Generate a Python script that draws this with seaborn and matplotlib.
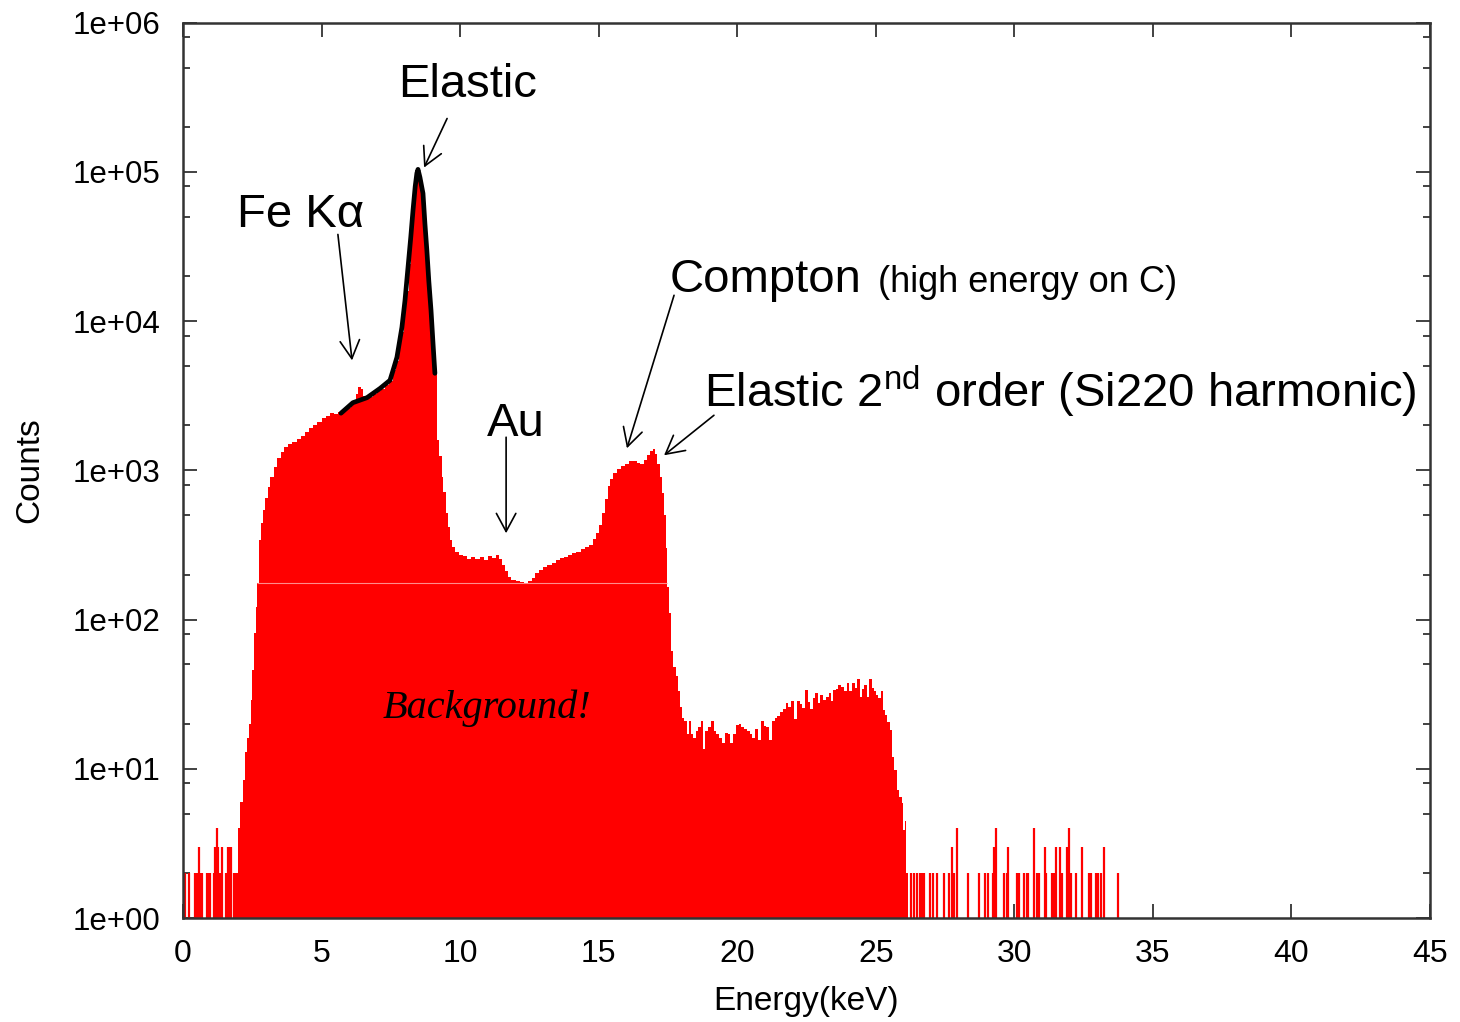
import numpy as np
import pandas as pd
import matplotlib
matplotlib.use("Agg")
import matplotlib.pyplot as plt
import seaborn as sns
from matplotlib.ticker import LogLocator, NullFormatter, NullLocator

# ---------------- data ----------------
body_energy = [
    1.93, 1.98, 2.05, 2.15, 2.22, 2.30, 2.38, 2.45, 2.50, 2.56,
    2.62, 2.68, 2.75, 2.81, 2.88, 2.96, 3.05, 3.15, 3.28, 3.40,
    3.52, 3.64, 3.80, 3.95, 4.10, 4.25, 4.40, 4.55, 4.70, 4.85,
    5.00, 5.15, 5.30, 5.45, 5.60, 5.75, 5.90, 6.05, 6.15, 6.25,
    6.33, 6.42, 6.50, 6.58, 6.70, 6.85, 7.00, 7.15, 7.30, 7.45,
    7.58, 7.68, 7.78, 7.88, 7.98, 8.06, 8.14, 8.22, 8.30, 8.37,
    8.43, 8.50, 8.56, 8.63, 8.70, 8.77, 8.84, 8.91, 8.98, 9.05,
    9.16, 9.25, 9.33, 9.40, 9.48, 9.56, 9.64, 9.72, 9.82, 9.95,
    10.10, 10.25, 10.40, 10.55, 10.70, 10.85, 11.00, 11.15, 11.30, 11.42,
    11.52, 11.62, 11.72, 11.85, 12.00, 12.15, 12.30, 12.45, 12.58, 12.70,
    12.85, 13.00, 13.15, 13.30, 13.45, 13.60, 13.75, 13.90, 14.05, 14.20,
    14.35, 14.50, 14.65, 14.80, 14.92, 15.02, 15.12, 15.22, 15.32, 15.42,
    15.52, 15.65, 15.80, 15.95, 16.10, 16.25, 16.40, 16.50, 16.62, 16.75,
    16.85, 16.95, 17.05, 17.12, 17.20, 17.28, 17.35, 17.42, 17.48, 17.55,
    17.62, 17.70, 17.78, 17.85, 17.92, 18.00, 18.08, 18.17, 18.25, 18.33,
    18.42, 18.50, 18.60, 18.68, 18.77, 18.85, 18.95, 19.05, 19.15, 19.25,
    19.35, 19.45, 19.55, 19.65, 19.75, 19.85, 19.95, 20.05, 20.15, 20.25,
    20.35, 20.45, 20.55, 20.65, 20.75, 20.85, 20.95, 21.05, 21.15, 21.25,
    21.35, 21.45, 21.55, 21.65, 21.75, 21.85, 21.95, 22.05, 22.15, 22.25,
    22.35, 22.45, 22.55, 22.62, 22.72, 22.80, 22.90, 23.00, 23.10, 23.20,
    23.30, 23.40, 23.47, 23.57, 23.65, 23.75, 23.85, 23.95, 24.05, 24.15,
    24.25, 24.32, 24.42, 24.50, 24.58, 24.67, 24.75, 24.85, 24.92, 25.00,
    25.08, 25.15, 25.20, 25.27, 25.35, 25.42, 25.50, 25.60, 25.67, 25.75,
    25.85, 25.93, 25.98, 26.05, 26.10,
]
body_end = 26.16
body_counts = [
    2, 4, 6, 8.4, 13, 16, 20, 29, 46, 81,
    121, 175, 340, 442, 541, 650, 771, 899, 1048, 1205,
    1322, 1428, 1500, 1560, 1620, 1700, 1820, 1930, 2020, 2120,
    2250, 2330, 2420, 2380, 2450, 2520, 2600, 2700, 2900, 3250,
    3600, 3500, 3150, 3000, 3100, 3250, 3380, 3520, 3750, 4000,
    4700, 5400, 6700, 8500, 12000, 16000, 24000, 36000, 54000, 78000,
    98000, 100000, 88000, 74000, 52000, 34000, 21000, 13500, 8000, 4500,
    1600, 1250, 900, 720, 520, 420, 340, 305, 285, 272,
    265, 256, 262, 255, 262, 250, 265, 258, 270, 255,
    232, 212, 192, 184, 182, 178, 174, 182, 190, 204,
    215, 225, 232, 240, 250, 258, 262, 270, 278, 285,
    295, 305, 318, 345, 380, 430, 520, 640, 780, 880,
    960, 1020, 1070, 1110, 1150, 1160, 1120, 1110, 1180, 1260,
    1340, 1390, 1290, 1100, 900, 700, 500, 300, 165, 110,
    62, 48, 42, 33, 26, 22, 21, 17, 21, 17,
    16, 18, 19, 21, 13.5, 18, 19, 21, 18, 17,
    16, 15, 17.5, 17, 15, 17, 19.6, 20, 19, 18.5,
    18, 17, 16, 18.5, 15.6, 21, 19.5, 19, 15.6, 21,
    22, 22.5, 24, 25, 27.5, 26, 28.5, 21.4, 28.5, 27,
    25.5, 33.6, 28, 25, 30, 32, 27.5, 31, 29, 30.5,
    32, 28.5, 33.6, 34, 36.4, 35.5, 33, 37.5, 33, 37.5,
    35, 39.8, 30.5, 34, 36.4, 30.5, 39.8, 35, 33, 31,
    29.8, 30, 33, 24.6, 23, 20.6, 18.2, 12, 9.8, 7.2,
    6.5, 5.9, 3.9, 4.5, 2,
]

noise_energy = [
    0.03, 0.08, 0.22, 0.45, 0.50, 0.58, 0.62, 0.68, 0.87, 0.92,
    0.97, 1.12, 1.16, 1.23, 1.28, 1.34, 1.41, 1.55, 1.62, 1.68,
    1.74, 1.84, 1.88,
    26.27, 26.38, 26.50, 26.60, 26.66, 26.74, 26.96, 27.07, 27.20, 27.46,
    27.64, 27.75, 27.82, 27.93, 28.33, 28.73, 28.95, 29.05, 29.23, 29.27,
    29.34, 29.63, 29.74, 29.77, 30.10, 30.17, 30.35, 30.46, 30.50, 30.71,
    30.82, 30.90, 31.11, 31.14, 31.36, 31.43, 31.50, 31.65, 31.72, 31.90,
    31.97, 32.05, 32.23, 32.44, 32.70, 32.77, 32.95, 33.02, 33.13, 33.24,
    33.74,
]
noise_counts = [
    2, 2, 2, 2, 2, 3, 2, 2, 2, 2,
    2, 2, 3, 4, 3, 2, 3, 2, 3, 3,
    3, 2, 2,
    2, 2, 2, 2, 2, 2, 2, 2, 2, 2,
    2, 3, 2, 4, 2, 2, 2, 2, 2, 3,
    4, 2, 2, 3, 2, 2, 2, 2, 2, 4,
    2, 2, 3, 2, 2, 2, 3, 3, 2, 3,
    4, 2, 2, 3, 2, 2, 2, 2, 2, 3,
    2,
]

fit_energy = [5.70, 6.13, 6.64, 7.11, 7.47, 7.58, 7.72, 7.90, 8.01, 8.12, 8.22, 8.30,
              8.38, 8.44, 8.48, 8.55, 8.66, 8.73, 8.80, 8.87, 8.95, 9.02, 9.09]
fit_counts = [2415, 2840, 3070, 3540, 4015, 4680, 5720, 9085, 13700, 22900, 36600, 55200,
              80000, 98000, 104000, 92000, 71800, 45000, 29800, 18600, 11800, 7200, 4470]

x_ticks = [0, 5, 10, 15, 20, 25, 30, 35, 40, 45]
y_ticks = [1e0, 1e1, 1e2, 1e3, 1e4, 1e5, 1e6]

# ---------------- style ----------------
sns.set_style("ticks")
plt.rcParams["font.family"] = ["Liberation Sans", "DejaVu Sans"]
plt.rcParams["text.color"] = "black"
plt.rcParams["axes.labelcolor"] = "black"
plt.rcParams["xtick.color"] = "black"
plt.rcParams["ytick.color"] = "black"
plt.rcParams["mathtext.fontset"] = "custom"
plt.rcParams["mathtext.rm"] = "Liberation Sans"
plt.rcParams["mathtext.it"] = "Liberation Sans:italic"
plt.rcParams["mathtext.bf"] = "Liberation Sans:bold"

fig = plt.figure(figsize=(14.6, 10.22), dpi=100)
ax = fig.add_axes([183 / 1460, 1 - 918 / 1022, (1430 - 183) / 1460, (918 - 22.7) / 1022])

# ---------------- spectrum ----------------
edges = body_energy + [body_end]
centers = [(a + b) / 2 for a, b in zip(edges[:-1], edges[1:])]
df = pd.DataFrame({"energy": centers, "counts": body_counts})
sns.histplot(data=df, x="energy", weights="counts", bins=edges, element="step",
             fill=True, color="#ff0000", alpha=1.0, linewidth=0, ax=ax)
ax.set_yscale("log")

# thin stitching seam visible in the original rendering
hi_mask = [c >= 175 for c in body_counts]
lo_edge = edges[hi_mask.index(True)]
hi_edge = edges[len(hi_mask) - hi_mask[::-1].index(True)]
ax.hlines(175, lo_edge, hi_edge, colors="#ff8c8c", lw=0.8, zorder=3)

# isolated low-count channels
ax.vlines(noise_energy, y_ticks[0], noise_counts, colors="#ff0000", lw=1.6, zorder=2)

# fitted elastic peak
sns.lineplot(x=fit_energy, y=fit_counts, color="black", lw=3.4, sort=False,
             estimator=None, ax=ax, zorder=4)

# ---------------- axes ----------------
ax.set_xlim(0, 45)
ax.set_ylim(1, 1e6)
ax.set_xticks(x_ticks, labels=[str(v) for v in x_ticks], fontsize=23)
ax.set_yticks(y_ticks, labels=[f"{v:.0e}" for v in y_ticks], fontsize=22.5)
ax.xaxis.set_minor_locator(NullLocator())
ax.yaxis.set_minor_locator(LogLocator(base=10, subs=(2, 5, 8), numticks=30))
ax.yaxis.set_minor_formatter(NullFormatter())
ax.tick_params(axis="both", which="major", direction="in", length=10, width=1.3,
               color="#333333", top=True, right=True)
ax.tick_params(axis="y", which="minor", direction="in", length=5, width=1.3,
               color="#333333", left=True, right=True)
ax.tick_params(axis="y", which="major", pad=16)
ax.tick_params(axis="x", which="major", pad=15)
for s in ax.spines.values():
    s.set_color("#333333")
    s.set_linewidth(1.8)
    s.set_visible(True)

ax.set_xlabel("Energy(keV)", fontsize=24, labelpad=12)
ax.set_ylabel("Counts", fontsize=24, labelpad=20)

# ---------------- annotations ----------------
arrow = dict(arrowstyle="->,head_length=0.65,head_width=0.35", lw=1.2,
             color="black", shrinkA=0, shrinkB=0, mutation_scale=20)
ax.annotate("", xy=(8.70, 1.07e5), xytext=(9.53, 2.28e5), arrowprops=arrow)
ax.annotate("", xy=(6.10, 5460), xytext=(5.59, 3.81e4), arrowprops=arrow)
ax.annotate("", xy=(16.02, 1406), xytext=(17.72, 1.49e4), arrowprops=arrow)
ax.annotate("", xy=(17.36, 1262), xytext=(19.16, 2339), arrowprops=arrow)
ax.annotate("", xy=(11.66, 379), xytext=(11.66, 1667), arrowprops=arrow)

big = 34
ax.text(7.76, 3.16e5, "Elastic", fontsize=big, ha="left", va="baseline")
ax.text(1.95, 4.3e4, "Fe Kα", fontsize=big, ha="left", va="baseline")
ax.text(17.57, 1.56e4, "Compton", fontsize=big, ha="left", va="baseline")
ax.text(25.08, 1.56e4, "(high energy on C)", fontsize=26, ha="left", va="baseline")
ax.text(18.8, 2650, r"Elastic 2$^{\mathregular{nd}}$ order (Si220 harmonic)",
        fontsize=big, ha="left", va="baseline")
ax.text(10.97, 1690, "Au", fontsize=big, ha="left", va="baseline")
ax.text(7.22, 21.9, "Background!", fontsize=29, family=["Liberation Serif", "DejaVu Serif"],
        style="italic", ha="left", va="baseline")

fig.savefig("out.png", dpi=100, facecolor="white")
